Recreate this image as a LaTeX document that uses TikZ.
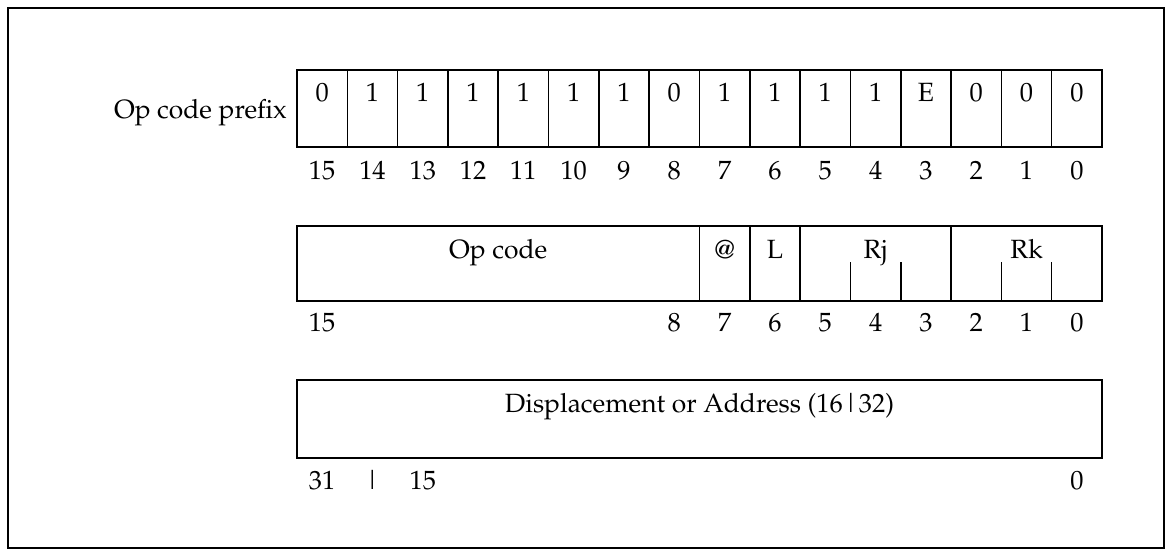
\documentclass[tikz,border=0pt]{standalone}
\usepackage[T1]{fontenc}
\usepackage{mathpazo}
\usetikzlibrary{calc}
\begin{document}
\begin{tikzpicture}[x=1pt,y=-1pt,
  font=\fontsize{26.4}{30}\selectfont,
  cell/.style={draw, line width=1.6pt, inner sep=0pt, outer sep=0pt},
  txt/.style={inner sep=0pt, anchor=base},
  tick/.style={line width=1.6pt},
  frame/.style={line width=2.4pt}]
\useasboundingbox (0,0) rectangle (1171,551);
\def\W{50.3125}
% outer frame
\draw[frame] (8,8) rectangle (1164,548);
% ---- top row: op code prefix
\node[txt, anchor=base east] (pfx) at (287,118) {Op code prefix};
\foreach \v [count=\i from 0] in {0,1,1,1,1,1,1,0,1,1,1,1,E,0,0,0} {
  \pgfmathtruncatemacro\b{15-\i}
  \pgfmathsetmacro\xc{297+\W*(\i+0.5)}
  \node[cell, minimum width=\W pt, minimum height=77pt] (p\b) at (\xc,108.5) {};
  \node[txt] (pv\b) at (\xc,102) {\v};
  \node[txt] (pb\b) at (\xc,179) {\b};
}
% ---- middle row
\pgfmathsetmacro\xa{297}
\pgfmathsetmacro\xb{297+8*\W}
\pgfmathsetmacro\xcc{297+9*\W}
\pgfmathsetmacro\xd{297+10*\W}
\pgfmathsetmacro\xe{297+13*\W}
\pgfmathsetmacro\xf{297+16*\W}
\node[cell, minimum width={8*\W pt}, minimum height=75pt] (opc) at ({(\xa+\xb)/2},263.5) {};
\node[cell, minimum width={\W pt}, minimum height=75pt] (ind) at ({(\xb+\xcc)/2},263.5) {};
\node[cell, minimum width={\W pt}, minimum height=75pt] (len) at ({(\xcc+\xd)/2},263.5) {};
\node[cell, minimum width={3*\W pt}, minimum height=75pt] (rj) at ({(\xd+\xe)/2},263.5) {};
\node[cell, minimum width={3*\W pt}, minimum height=75pt] (rk) at ({(\xe+\xf)/2},263.5) {};
\node[txt] (opct) at ({(\xa+\xb)/2},258) {Op code};
\node[txt] (indt) at ({(\xb+\xcc)/2},258) {@};
\node[txt] (lent) at ({(\xcc+\xd)/2},258) {L};
\node[txt] (rjt) at ({(\xd+\xe)/2},258) {Rj};
\node[txt] (rkt) at ({(\xe+\xf)/2},258) {Rk};
\draw[tick] ($(rj.south west)+(\W,0)$) -- ++(0,-39);
\draw[tick] ($(rj.south west)+(2*\W,0)$) -- ++(0,-39);
\draw[tick] ($(rk.south west)+(\W,0)$) -- ++(0,-39);
\draw[tick] ($(rk.south west)+(2*\W,0)$) -- ++(0,-39);
\foreach \b in {15,8,7,6,5,4,3,2,1,0} {
  \pgfmathsetmacro\xc{297+\W*(15-\b+0.5)}
  \node[txt] (mb\b) at (\xc,331) {\b};
}
% ---- bottom row
\node[cell, minimum width={16*\W pt}, minimum height=78pt] (disp) at ({(\xa+\xf)/2},419) {};
\node[txt] (dispt) at ({(\xa+\xf)/2},412) {Displacement or Address (16\textbar 32)};
\node[txt] (db31) at ({297+\W*0.5},489) {31};
\node[txt] (dbar) at ({297+\W*1.5},489) {\textbar};
\node[txt] (db15) at ({297+\W*2.5},489) {15};
\node[txt] (db0) at ({297+\W*15.5},489) {0};
\end{tikzpicture}
\end{document}
